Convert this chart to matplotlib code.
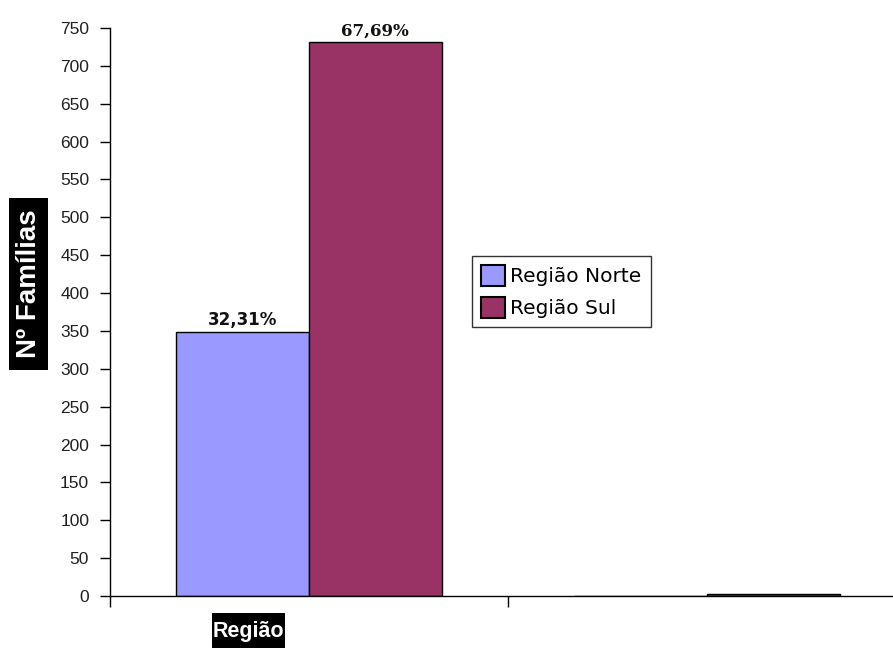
import matplotlib
matplotlib.use("Agg")
import matplotlib.pyplot as plt
from matplotlib.patches import Rectangle
import numpy as np

categories = ["", ""]
series_names = ["Região Norte", "Região Sul"]
norte = [349, 0]
sul = [731, 2]
labels_norte = ["32,31%", ""]
labels_sul = ["67,69%", ""]
yticks = list(range(0, 751, 50))

colors = ["#9999FF", "#993366"]

fig = plt.figure(figsize=(8.93, 6.48), dpi=100)
W, H = 893, 648
ax = fig.add_axes([110 / W, 52 / H, 796 / W, 568 / H])

x = np.arange(len(categories))
w = 1 / 3
b1 = ax.bar(x - w / 2, norte, w, color=colors[0], edgecolor="black", linewidth=1, label=series_names[0])
b2 = ax.bar(x + w / 2, sul, w, color=colors[1], edgecolor="black", linewidth=1, label=series_names[1])

for rect, lab in zip(b1, labels_norte):
    if lab:
        ax.text(rect.get_x() + rect.get_width() / 2, rect.get_height() + 8.5, lab,
                ha="center", va="baseline", fontsize=12, fontweight="bold",
                family="DejaVu Sans", color="#111111")
for rect, lab in zip(b2, labels_sul):
    if lab:
        ax.text(rect.get_x() + rect.get_width() / 2, rect.get_height() + 8.5, lab,
                ha="center", va="baseline", fontsize=12, fontweight="bold",
                family="DejaVu Serif", color="#111111")

ax.set_xlim(-0.5, 1.5)
ax.set_ylim(0, 750)
ax.set_yticks(yticks)
ax.set_yticklabels([str(v) for v in yticks], fontsize=12.5, family="Liberation Sans", color="#202020")
ax.set_xticks([-0.5, 0.5, 1.5])
ax.set_xticklabels([])
ax.tick_params(axis="y", direction="out", length=7, width=1, pad=8)
ax.tick_params(axis="x", direction="out", length=8, width=1)
for s in ["top", "right"]:
    ax.spines[s].set_visible(False)
ax.spines["left"].set_linewidth(1)
ax.spines["bottom"].set_linewidth(1)

leg = ax.legend(loc="upper left", bbox_to_anchor=((472 - 110) / 796, (596 - 256) / 568),
                frameon=True, fancybox=False, edgecolor="black",
                prop={"family": "DejaVu Sans", "size": 14.5},
                handlelength=1.2, handleheight=1.2, handletextpad=0.25,
                borderpad=0.45, labelspacing=0.55, borderaxespad=0)
leg.get_frame().set_linewidth(1)
for p in leg.get_patches():
    p.set_linewidth(1.5)

# Boxed axis titles (black boxes with white bold text)
fig.patches.append(Rectangle((9 / W, 1 - 370 / H), 39 / W, 172 / H, transform=fig.transFigure,
                             facecolor="black", edgecolor="none", figure=fig))
fig.text(29 / W, 1 - 284 / H, "Nº Famílias", rotation=90, ha="center", va="center",
         color="white", fontsize=20, fontweight="bold", family="Liberation Sans")
fig.patches.append(Rectangle((212 / W, 0), 73 / W, 35 / H, transform=fig.transFigure,
                             facecolor="black", edgecolor="none", figure=fig))
fig.text(248.5 / W, 1 - 631 / H, "Região", ha="center", va="center",
         color="white", fontsize=15.5, fontweight="bold", family="Liberation Sans")

fig.savefig("out.png", dpi=100)
